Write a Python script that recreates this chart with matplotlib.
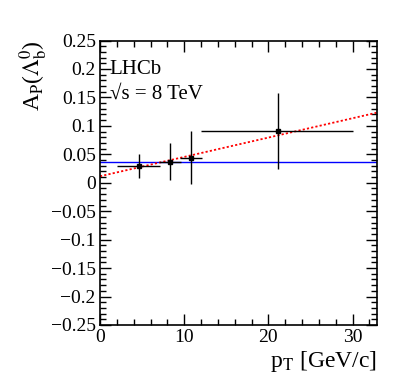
import matplotlib
matplotlib.use("Agg")
import matplotlib.pyplot as plt
from matplotlib.ticker import MultipleLocator
import numpy as np

plt.rcParams["font.family"] = ["Liberation Serif", "DejaVu Serif"]
plt.rcParams["mathtext.fontset"] = "stix"

# binned asymmetry measurements
pt_centre = [4.6, 8.3, 10.8, 21.1]
pt_low = [2.0, 7.0, 9.5, 12.0]
pt_high = [7.1, 9.6, 12.1, 30.1]
asym = [0.030, 0.037, 0.044, 0.091]
asym_err = [0.021, 0.032, 0.047, 0.067]

# fits: constant and linear
const_value = 0.0365
lin_intercept = 0.0114
lin_slope = 0.0034

x_min, x_max = 0.0, 32.9
y_min, y_max = -0.25, 0.25

fig = plt.figure(figsize=(3.99, 3.88), dpi=100)
ax = fig.add_axes([0.2506, 0.1624, 0.6943, 0.7332])

xerr = [np.array(pt_centre) - np.array(pt_low), np.array(pt_high) - np.array(pt_centre)]
ax.errorbar(pt_centre, asym, xerr=xerr, yerr=asym_err, fmt="s", color="black",
            markersize=2.5, elinewidth=1.0, capsize=0, zorder=3)

ax.axhline(const_value, color="#0000ff", linewidth=1.0, zorder=2)
xs = np.array([x_min, x_max])
ax.plot(xs, lin_intercept + lin_slope * xs, color="#ff0000", linestyle=(0, (1.2, 1.2)),
        linewidth=1.3, zorder=2)

ax.set_xlim(x_min, x_max)
ax.set_ylim(y_min, y_max)
ax.xaxis.set_major_locator(MultipleLocator(10))
ax.xaxis.set_minor_locator(MultipleLocator(2))
ax.yaxis.set_major_locator(MultipleLocator(0.05))
ax.yaxis.set_minor_locator(MultipleLocator(0.01))
ax.yaxis.set_major_formatter(plt.FuncFormatter(lambda v, p: ("%g" % round(v, 3)).replace("-", "\u2212")))

ax.tick_params(which="both", direction="in", top=True, right=True, labelsize=14, width=1.0)
ax.tick_params(which="major", length=8, pad=3)
ax.tick_params(which="minor", length=4)
for spine in ax.spines.values():
    spine.set_linewidth(1.2)

ax.set_xlabel(r"p$_\mathrm{T}$ [GeV/c]", fontsize=17, ha="right")
ax.xaxis.set_label_coords(1.0, -0.085)
ax.set_ylabel(r"A$_\mathrm{P}$($\Lambda_\mathrm{b}^0$)", fontsize=17, ha="right")
ax.yaxis.set_label_coords(-0.18, 1.0)

ax.text(0.035, 0.881, "LHCb", transform=ax.transAxes, fontsize=15, va="baseline")
ax.text(0.035, 0.796, "\u221as = 8 TeV", transform=ax.transAxes, fontsize=15, va="baseline")

fig.savefig("out.png", dpi=100)
